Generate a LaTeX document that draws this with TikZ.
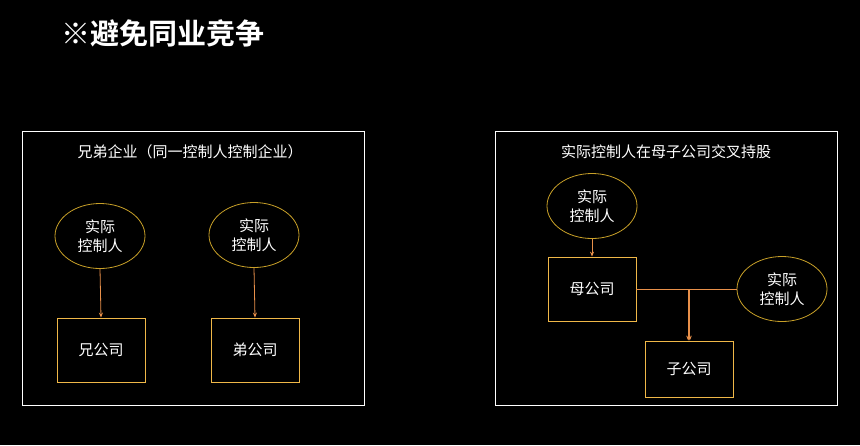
\documentclass[tikz,border=0pt]{standalone}
\usepackage{fontspec}
\setmainfont{Noto Sans CJK SC}
\newfontfamily\cjkb{Noto Sans CJK SC Bold}
\usetikzlibrary{shapes.geometric,arrows.meta}
\definecolor{boxc}{HTML}{F0B848}
\definecolor{ellc}{HTML}{C8A028}
\definecolor{linec}{HTML}{E8904A}
\tikzset{
 panel/.style={draw=white,line width=0.8pt},
 cbox/.style={draw=boxc,line width=0.8pt,minimum width=88pt,minimum height=64pt,text=white,font=\fontsize{15pt}{17pt}\selectfont},
 ctl/.style={draw=ellc,line width=0.8pt,ellipse,minimum width=90pt,minimum height=65pt,text=white,align=center,inner sep=0pt,font=\fontsize{15pt}{19pt}\selectfont},
 conn/.style={draw=linec,line width=0.8pt},
 arr/.style={conn,-{Stealth[length=5pt,width=4pt]}},
 ttl/.style={text=white,font=\fontsize{15pt}{17pt}\selectfont}
}
\begin{document}
\begin{tikzpicture}[x=1pt,y=-1pt]
\fill[black] (0,0) rectangle (860,445);
\useasboundingbox (0,0) rectangle (860,445);
\node[text=white,font=\cjkb\fontsize{29pt}{32pt}\selectfont,anchor=west] (head) at (58,33) {※避免同业竞争};
\node[panel,minimum width=342pt,minimum height=274pt] (lp) at (193,268) {};
\node[panel,minimum width=342pt,minimum height=274pt] (rp) at (666,268) {};
\node[ttl] (lt) at (190,152) {兄弟企业（同一控制人控制企业）};
\node[ttl] (rt) at (666,152) {实际控制人在母子公司交叉持股};
\node[ctl] (e1) at (100,236) {实际\\控制人};
\node[ctl] (e2) at (254,235) {实际\\控制人};
\node[cbox] (b1) at (101,350) {兄公司};
\node[cbox] (b2) at (255,350) {弟公司};
\draw[arr] (e1.south) -- (b1.north);
\draw[arr] (e2.south) -- (b2.north);
\node[ctl] (e3) at (592,206) {实际\\控制人};
\node[cbox] (m) at (592,289) {母公司};
\node[ctl] (e4) at (782,289) {实际\\控制人};
\node[cbox,minimum height=56pt] (z) at (689,369) {子公司};
\draw[arr] (e3.south) -- (m.north);
\draw[conn] (m.east) -- (e4.west);
\coordinate (j) at (689,289);
\draw[arr] ([xshift=-0.8pt]j) -- ([xshift=-0.8pt]z.north);
\draw[arr] ([xshift=0.8pt]j) -- ([xshift=0.8pt]z.north);
\end{tikzpicture}
\end{document}
